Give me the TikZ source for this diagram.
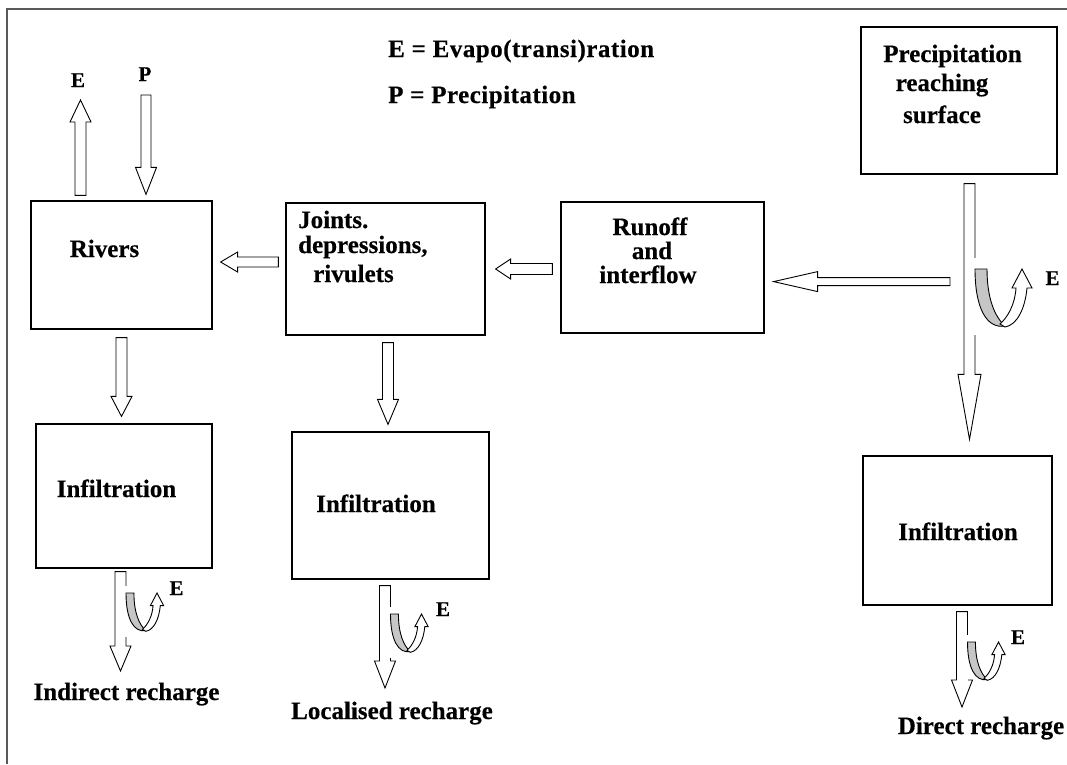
\documentclass[tikz,border=0pt]{standalone}
\usepackage{fontspec}
\setmainfont{Liberation Serif}
\newfontfamily\boxfont{Liberation Serif Bold}[FakeBold=0.4]
\newfontfamily\legfont{Liberation Serif Bold}[FakeBold=0.4, LetterSpace=2]
\usetikzlibrary{calc}
\newcommand\blkdn[5]{%
  \draw[blk] let \p1=(#1), \p2=(#2) in
    (\x1-#3pt,\y1) -- (\x1+#3pt,\y1) -- (\x1+#3pt,\y2+#5pt) -- (\x1+#4pt,\y2+#5pt)
    -- (\x1,\y2) -- (\x1-#4pt,\y2+#5pt) -- (\x1-#3pt,\y2+#5pt) -- cycle;}
\newcommand\blkup[5]{%
  \draw[blk] let \p1=(#1), \p2=(#2) in
    (\x1-#3pt,\y1) -- (\x1+#3pt,\y1) -- (\x1+#3pt,\y2-#5pt) -- (\x1+#4pt,\y2-#5pt)
    -- (\x1,\y2) -- (\x1-#4pt,\y2-#5pt) -- (\x1-#3pt,\y2-#5pt) -- cycle;}
\newcommand\blklf[5]{%
  \draw[blk] let \p1=(#1), \p2=(#2) in
    (\x1,\y1-#3pt) -- (\x1,\y1+#3pt) -- (\x2+#5pt,\y1+#3pt) -- (\x2+#5pt,\y1+#4pt)
    -- (\x2,\y1) -- (\x2+#5pt,\y1-#4pt) -- (\x2+#5pt,\y1-#3pt) -- cycle;}
\newcommand\evapU[3]{%
  \begin{scope}[shift={(#1,#2)},scale=#3]
    \draw[white, line width=1.6pt] (0,-11) -- (0,66);
    \draw[blk,fill=gray!45] (0,0) -- (12,0) .. controls (12,30) and (20,48) .. (30,57)
      .. controls (12,60) and (0,40) .. (0,0) -- cycle;
    \draw[blk] (25,55) .. controls (33,48) and (40,35) .. (41,19) -- (37,19) -- (47,0)
      -- (57,19) -- (52,19) .. controls (50,40) and (42,56) .. (30,58) -- cycle;
  \end{scope}}
\begin{document}
\begin{tikzpicture}[x=1pt,y=-1pt,
  box/.style={draw, line width=1.2pt, inner sep=0pt},
  blk/.style={draw, line width=0.9pt, fill=white, line join=miter},
  txt/.style={inner sep=0pt, anchor=base, font=\boxfont\fontsize{25}{27}\selectfont},
  lft/.style={txt, anchor=base west},
  leg/.style={lft, font=\legfont\fontsize{25}{27}\selectfont},
  sml/.style={txt, font=\boxfont\fontsize{21}{23}\selectfont}]
\useasboundingbox (0,0) rectangle (1067,764);
\draw[line width=1.6pt, gray!70!black] (1067,9) -- (7,9) -- (7,764);

% boxes
\node[box, minimum width=181pt, minimum height=128pt] (rivers) at (121.5,265) {};
\node[box, minimum width=199pt, minimum height=132pt] (joints) at (385.5,269) {};
\node[box, minimum width=203pt, minimum height=131pt] (runoff) at (662.5,267.5) {};
\node[box, minimum width=196pt, minimum height=147pt] (precip) at (959,100.5) {};
\node[box, minimum width=176pt, minimum height=144pt] (infL) at (124,496) {};
\node[box, minimum width=197pt, minimum height=147pt] (infM) at (390.5,505.5) {};
\node[box, minimum width=189pt, minimum height=149pt] (infR) at (957.5,530.5) {};

% free ends
\coordinate (eTip) at (80.5,100);
\coordinate (pTop) at (146,95);
\coordinate (outL) at (120.5,671);
\coordinate (outM) at (385,688);
\coordinate (outR) at (962,707);

% arrows
\blkup{$(eTip |- rivers.north)+(0,-5)$}{eTip}{5.5}{10.5}{22}
\blkdn{pTop}{$(pTop |- rivers.north)+(0,-6)$}{5}{10.5}{27}
\blkdn{$(rivers.south)+(0,8)$}{$(infL.north)+(-3,-7)$}{5.5}{10.5}{20}
\blklf{$(joints.west)+(-7,-7)$}{$(rivers.east)+(8,-3)$}{5}{10}{17}
\blklf{$(runoff.west)+(-8,1.5)$}{$(joints.east)+(10,0)$}{5.5}{10}{15}
\blklf{$(precip.south)+(-9,107)$}{$(runoff.east)+(9,13.5)$}{4}{10}{44}
\blkdn{$(joints.south)+(2.5,7)$}{$(infM.north)+(-2.5,-7)$}{5.5}{10.5}{25}
\blkdn{$(precip.south)+(10.5,9)$}{$(infR.north)+(12,-16)$}{5.5}{11.5}{65}
\blkdn{$(outL |- infL.south)+(0,3)$}{outL}{5.5}{10.5}{25}
\blkdn{$(outM |- infM.south)+(0,6)$}{outM}{5.5}{10.5}{27}
\blkdn{$(outR |- infR.south)+(0,6)$}{outR}{5.5}{10.5}{27}

% evaporation loops
\evapU{975}{269}{1}
\evapU{126}{593}{0.66}
\evapU{390.5}{614}{0.66}
\evapU{967.5}{642}{0.66}

% texts
\node[leg] (leg1) at (388,57) {E = Evapo(transi)ration};
\node[leg] (leg2) at (388,103) {P = Precipitation};
\node[sml] (lE) at (78,87) {E};
\node[sml] (lP) at (145,81) {P};
\node[txt] (tRiv) at (104.5,257) {Rivers};
\node[lft] (tJ1) at (298,228) {Joints.};
\node[lft] (tJ2) at (298,253) {depressions,};
\node[lft] (tJ3) at (313,282) {rivulets};
\node[txt] (tR1) at (650,235) {Runoff};
\node[txt] (tR2) at (652,259) {and};
\node[txt] (tR3) at (648,283) {interflow};
\node[txt] (tP1) at (952.5,62) {Precipitation};
\node[txt] (tP2) at (942,91) {reaching};
\node[txt] (tP3) at (942,123) {surface};
\node[txt] (tI1) at (116.5,497) {Infiltration};
\node[txt] (tI2) at (376,512) {Infiltration};
\node[txt] (tI3) at (958,540) {Infiltration};
\node[sml] (e1) at (1052.5,285) {E};
\node[sml] (e2) at (176.5,595) {E};
\node[sml] (e3) at (443,616) {E};
\node[sml] (e4) at (1018,644) {E};
\node[txt] (b1) at (126.5,700) {Indirect recharge};
\node[txt] (b2) at (392,719) {Localised recharge};
\node[txt] (b3) at (981,734) {Direct recharge};
\end{tikzpicture}
\end{document}
